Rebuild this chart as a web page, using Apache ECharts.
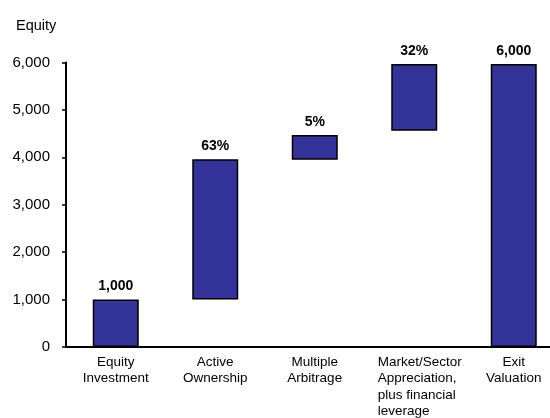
<!DOCTYPE html>
<html>
<head>
<meta charset="utf-8">
<script src="https://cdn.jsdelivr.net/npm/echarts@6/dist/echarts.min.js"></script>
<style>
html,body{margin:0;padding:0;background:#fff;}
#chart{width:550px;height:418px;}
</style>
</head>
<body>
<div id="chart"></div>
<script>
var categories = ['Equity\nInvestment', 'Active\nOwnership', 'Multiple\nArbitrage', 'Market/Sector\nAppreciation,\nplus financial\nleverage', 'Exit\nValuation'];
var barBottoms = [0, 1000, 3950, 4560, 0];
var barTops = [1000, 3960, 4470, 5970, 5970];
var barLabels = ['1,000', '63%', '5%', '32%', '6,000'];
var yTicks = [0, 1000, 2000, 3000, 4000, 5000, 6000];

var heights = barTops.map(function (t, i) { return t - barBottoms[i]; });
var font = '"Liberation Sans", Arial, sans-serif';

var chart = echarts.init(document.getElementById('chart'));
chart.setOption({
  animation: false,
  backgroundColor: '#fff',
  title: {
    text: 'Equity', left: 11, top: 13,
    textStyle: { fontFamily: font, fontSize: 14.5, fontWeight: 'normal', color: '#000' }
  },
  grid: { left: 66, top: 62.5, bottom: 71, width: 497.5, outerBoundsMode: 'none', containLabel: false },
  xAxis: {
    type: 'category',
    data: categories,
    axisLine: { lineStyle: { color: '#000', width: 2 } },
    axisTick: { show: false },
    axisLabel: {
      interval: 0, color: '#000', fontFamily: font, fontSize: 13.5, lineHeight: 16.5, margin: 7,
      formatter: function (v) {
        if (v.indexOf('Market') === 0) {
          return v.split('\n').map(function (s) { return '{m|' + s + '}'; }).join('\n');
        }
        return v;
      },
      rich: { m: { width: 85, align: 'left', padding: [0, 0, 0, 12], fontFamily: font, fontSize: 13.5, lineHeight: 16.5, color: '#000' } }
    }
  },
  yAxis: {
    type: 'value', min: yTicks[0], max: yTicks[yTicks.length - 1], interval: 1000,
    axisLine: { show: true, lineStyle: { color: '#000', width: 2 } },
    axisTick: { show: true, inside: false, length: 4, lineStyle: { color: '#000', width: 1.5 } },
    splitLine: { show: false },
    axisLabel: {
      color: '#000', fontFamily: font, fontSize: 15, margin: 16,
      formatter: function (v) { return v.toLocaleString('en-US'); }
    }
  },
  series: [
    {
      type: 'bar', stack: 'w', data: barBottoms, barWidth: 46,
      itemStyle: { color: 'rgba(0,0,0,0)' }, silent: true
    },
    {
      type: 'bar', stack: 'w', data: heights, barWidth: 46,
      itemStyle: { color: '#333399', borderColor: '#000', borderWidth: 1.5 },
      label: {
        show: true, position: 'top', distance: 6, color: '#000',
        fontFamily: font, fontSize: 14, fontWeight: 'bold',
        formatter: function (p) { return barLabels[p.dataIndex]; }
      }
    }
  ]
});
</script>
</body>
</html>
